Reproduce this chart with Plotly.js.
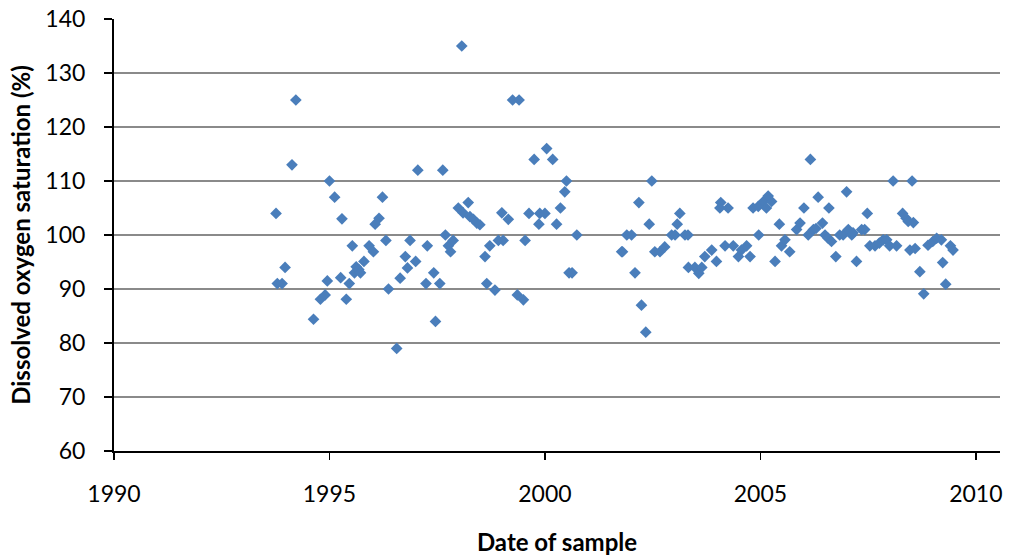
<!DOCTYPE html>
<html>
<head>
<meta charset="utf-8">
<script src="https://cdn.plot.ly/plotly-3.0.1.min.js"></script>
<style>html,body{margin:0;padding:0;background:#fff;}#chart{width:1009px;height:560px;}</style>
</head>
<body>
<div id="chart"></div>
<script>
// Date of sample (decimal year)
const sampleDates = [
  1993.76, 1993.79, 1993.90, 1993.97, 1994.13, 1994.22, 1994.63, 1994.79, 1994.90, 1994.95,
  1995.00, 1995.12, 1995.26, 1995.29, 1995.39, 1995.46, 1995.53, 1995.58, 1995.62, 1995.68,
  1995.72, 1995.80, 1995.92, 1996.02, 1996.06, 1996.15, 1996.23, 1996.31, 1996.37, 1996.56,
  1996.64, 1996.76, 1996.81, 1996.87, 1997.00, 1997.05, 1997.24, 1997.27, 1997.42, 1997.46,
  1997.56, 1997.63, 1997.69, 1997.76, 1997.81, 1997.87, 1997.99, 1998.07, 1998.10, 1998.22,
  1998.26, 1998.34, 1998.42, 1998.49, 1998.61, 1998.65, 1998.72, 1998.84, 1998.92, 1999.00,
  1999.03, 1999.15, 1999.25, 1999.36, 1999.40, 1999.50, 1999.54, 1999.63, 1999.75, 1999.86,
  1999.88, 2000.00, 2000.04, 2000.18, 2000.27, 2000.36, 2000.46, 2000.50, 2000.56, 2000.63,
  2000.74, 2001.78, 2001.80, 2001.90, 2002.01, 2002.09, 2002.18, 2002.24, 2002.34, 2002.42,
  2002.48, 2002.55, 2002.67, 2002.78, 2002.94, 2003.02, 2003.07, 2003.13, 2003.25, 2003.32,
  2003.33, 2003.48, 2003.57, 2003.64, 2003.71, 2003.87, 2003.98, 2004.06, 2004.08, 2004.18,
  2004.25, 2004.37, 2004.49, 2004.56, 2004.68, 2004.76, 2004.83, 2004.95, 2004.96, 2005.07,
  2005.14, 2005.18, 2005.26, 2005.34, 2005.44, 2005.49, 2005.57, 2005.68, 2005.84, 2005.92,
  2006.01, 2006.11, 2006.16, 2006.23, 2006.29, 2006.34, 2006.44, 2006.50, 2006.57, 2006.59,
  2006.65, 2006.75, 2006.84, 2006.92, 2007.00, 2007.04, 2007.12, 2007.15, 2007.23, 2007.35,
  2007.42, 2007.48, 2007.54, 2007.66, 2007.76, 2007.85, 2007.93, 2008.00, 2008.08, 2008.16,
  2008.30, 2008.38, 2008.43, 2008.47, 2008.52, 2008.55, 2008.59, 2008.70, 2008.79, 2008.89,
  2009.00, 2009.09, 2009.20, 2009.23, 2009.30, 2009.41, 2009.47
];
// Dissolved oxygen saturation (%)
const oxygenSaturation = [
  104, 91, 91, 94, 113, 125, 84.4, 88.1, 88.9, 91.5,
  110, 107, 92.1, 103, 88.1, 91, 98, 93, 94.1, 93.6,
  93, 95.1, 98, 96.9, 102, 103.1, 107, 99, 90, 79,
  92, 96, 93.9, 99, 95.1, 112, 91, 98, 93, 84,
  91, 112, 100, 98, 96.9, 99, 105, 135, 104.1, 106,
  103.4, 102.9, 102.2, 101.9, 96, 91, 98, 89.8, 99, 104.1,
  99, 102.9, 125, 88.9, 125, 88, 99, 104, 114, 102,
  104, 104, 116, 114, 102, 105, 108, 110, 93, 93,
  100, 96.9, 96.9, 100, 100, 93, 106, 87, 82, 102,
  110, 96.9, 96.9, 97.8, 100, 100, 102, 104, 100, 100,
  94, 94, 92.9, 94, 96, 97.2, 95.1, 105, 106, 98,
  105, 98, 96, 97.2, 98, 96, 105, 105.3, 100, 106.2,
  105, 107.2, 106.2, 95.1, 102, 98, 99.1, 96.9, 101, 102.2,
  105, 100, 114, 101, 101.2, 107, 102.2, 100, 99.4, 105,
  98.8, 96, 100, 100, 108, 101, 100, 100.4, 95.1, 101,
  101, 104, 98, 98, 98.5, 99.1, 99.1, 98, 110, 98,
  104, 103.1, 102.5, 97.2, 110, 102.3, 97.5, 93.2, 89.1, 98.1,
  98.8, 99.4, 99.1, 94.9, 90.9, 98, 97.2
];
const xTickVals = [1990, 1995, 2000, 2005, 2010];
const xTickText = ['1990', '1995', '2000', '2005', '2010'];
const yTickVals = [60, 70, 80, 90, 100, 110, 120, 130, 140];

const FONT = 'Lato, "Open Sans", "Liberation Sans", sans-serif';

const trace = {
  type: 'scatter',
  mode: 'markers',
  x: sampleDates,
  y: oxygenSaturation,
  marker: { symbol: 'diamond', size: 9, color: '#4A7EBB', line: { width: 0 } },
  hoverinfo: 'x+y'
};

const layout = {
  width: 1009,
  height: 560,
  margin: { l: 114, r: 9, t: 19, b: 109, pad: 0 },
  paper_bgcolor: '#ffffff',
  plot_bgcolor: '#ffffff',
  showlegend: false,
  font: { family: FONT, size: 23, color: '#000000' },
  xaxis: {
    range: [1990, 2010.56],
    tickvals: xTickVals,
    ticktext: xTickText,
    showgrid: false,
    zeroline: false,
    showline: true,
    linecolor: '#000000',
    linewidth: 2,
    ticks: 'outside',
    ticklen: 7,
    tickwidth: 1.5,
    tickcolor: '#000000',
    ticklabelstandoff: 14,
    tickfont: { family: FONT, size: 23, color: '#000000' },
    title: { text: 'Date of sample', font: { family: FONT, size: 24, color: '#000000', weight: 'bold' }, standoff: 29 },
    automargin: false
  },
  yaxis: {
    range: [60, 140],
    tickvals: yTickVals,
    showgrid: true,
    gridcolor: '#8a8a8a',
    gridwidth: 1.5,
    zeroline: false,
    showline: true,
    linecolor: '#000000',
    linewidth: 2,
    ticks: 'outside',
    ticklen: 8,
    tickwidth: 1.5,
    tickcolor: '#000000',
    ticklabelstandoff: 14,
    tickfont: { family: FONT, size: 23, color: '#000000' },
    title: { text: 'Dissolved oxygen saturation (%)', font: { family: FONT, size: 24, color: '#000000', weight: 'bold' }, standoff: 8 },
    automargin: false
  }
};

Plotly.newPlot('chart', [trace], layout, { displayModeBar: false, staticPlot: true });
</script>
</body>
</html>
